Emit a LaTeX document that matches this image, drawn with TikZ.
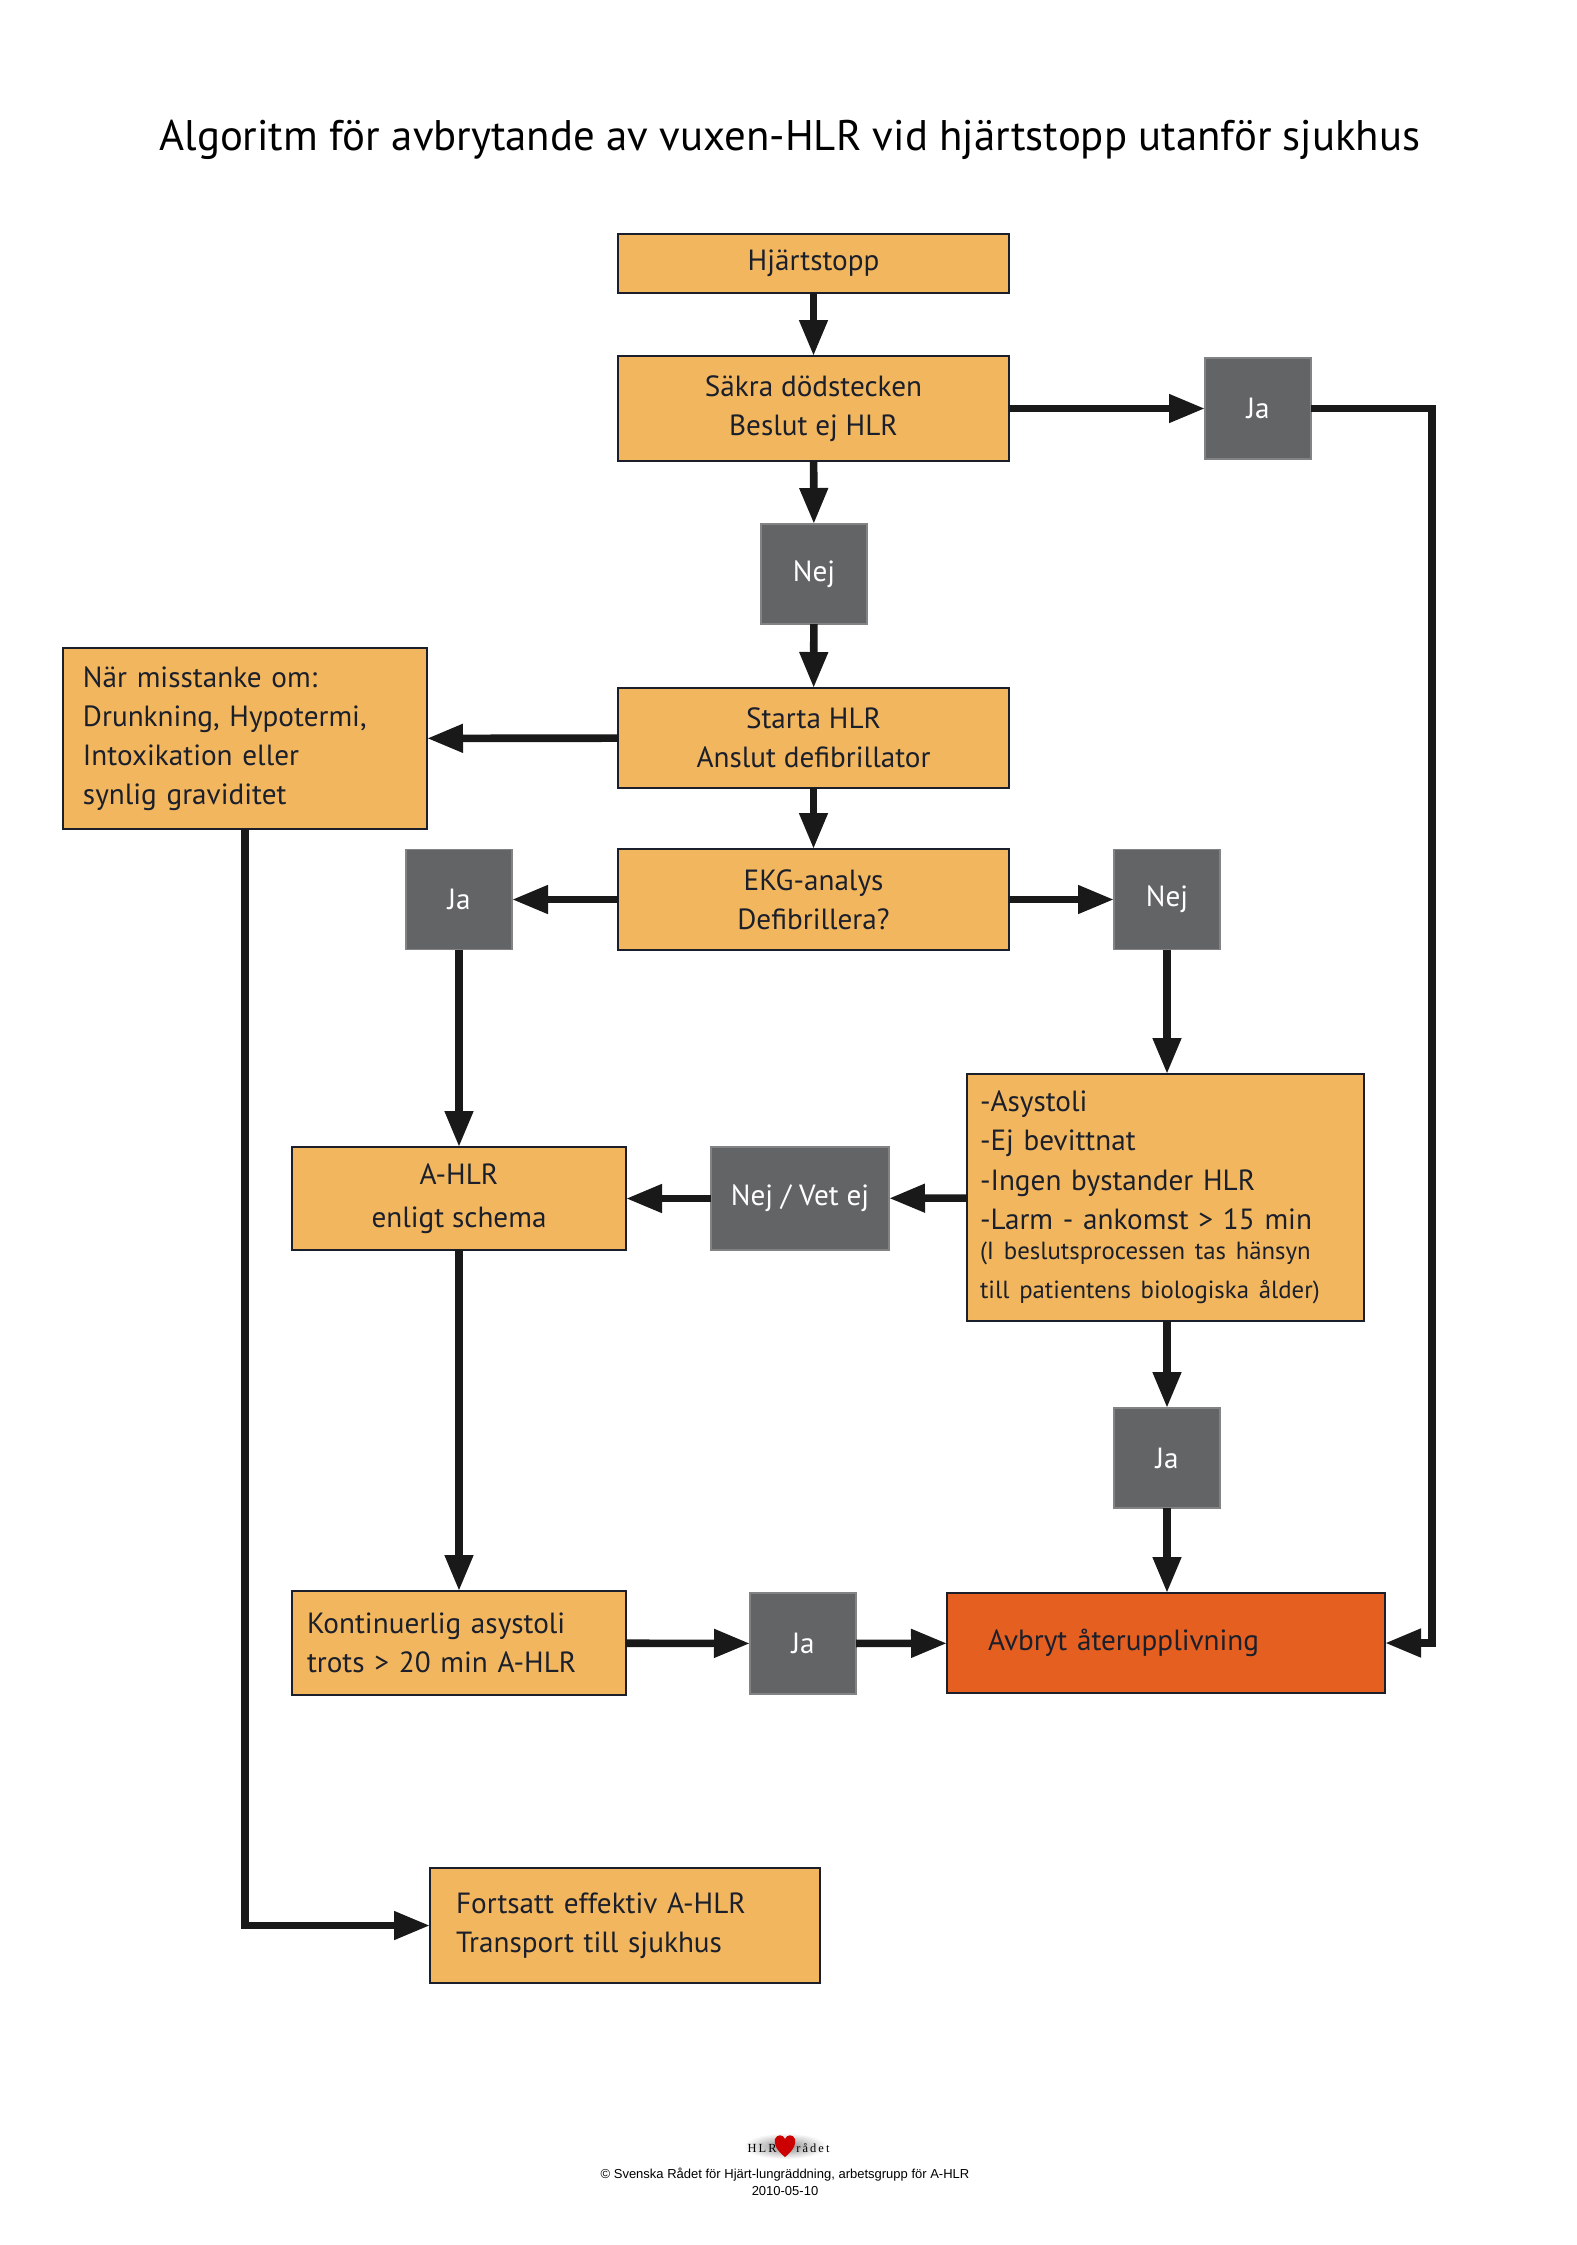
\documentclass[tikz,border=0pt]{standalone}
\usepackage{fontspec}
\setmainfont{PT Sans}
\newfontfamily\footfont{Liberation Sans}
\newfontfamily\logofont{Liberation Serif}
\usetikzlibrary{arrows.meta}
\definecolor{boxorange}{HTML}{F2B75E}
\definecolor{boxgray}{HTML}{636466}
\definecolor{boxred}{HTML}{E55F20}
\definecolor{inkdark}{HTML}{1B1F2B}
\tikzset{
  orangebox/.style={draw=inkdark,line width=1.2pt,fill=boxorange,text=inkdark,inner sep=0pt,outer sep=0pt,
    align=center,font=\fontsize{14.6}{19.6}\selectfont},
  leftbox/.style={orangebox,align=left},
  graybox/.style={draw=boxgray!80,line width=.6pt,fill=boxgray,text=white,inner sep=0pt,outer sep=0pt,
    font=\fontsize{14.6}{19.6}\selectfont},
  flow/.style={draw=black!90,line width=3.8pt,-{Triangle[width=13.5pt,length=18pt]}}
}
\begin{document}
\begin{tikzpicture}[x=0.5pt,y=-0.5pt]
\useasboundingbox (0,0) rectangle (1577,2245);
\node (title) at (790,140) {\fontsize{21.4}{26}\selectfont Algoritm för avbrytande av vuxen-HLR vid hjärtstopp utanför sjukhus};
% middle column
\node[orangebox,minimum width=195.5pt,minimum height=29.5pt] (hjartstopp) at (813.5,263.5) {Hjärtstopp};
\node[orangebox,minimum width=195.5pt,minimum height=52.5pt] (sakra) at (813.5,408.5) {Säkra dödstecken\\Beslut ej HLR};
\node[graybox,minimum width=53pt,minimum height=50pt] (nejtop) at (814,574) {Nej};
\node[orangebox,minimum width=195.5pt,minimum height=50pt] (starta) at (813.5,738) {Starta HLR\\Anslut defibrillator};
\node[orangebox,minimum width=195.5pt,minimum height=50.5pt] (ekg) at (813.5,899.5) {EKG-analys\\Defibrillera?};
\node[graybox,minimum width=53pt,minimum height=50.5pt] (jatop) at (1258,408.5) {Ja};
\node[graybox,minimum width=53pt,minimum height=50pt] (jaleft) at (459,899.5) {Ja};
\node[graybox,minimum width=53pt,minimum height=50pt] (nejright) at (1167,899.5) {Nej};
% left column
\node[leftbox,text width=162pt,inner xsep=10pt,minimum height=90.5pt] (misstanke) at (245,738.5) {När misstanke om:\\Drunkning, Hypotermi,\\Intoxikation eller\\synlig graviditet};
\node[orangebox,minimum width=167pt,minimum height=51.5pt,font=\fontsize{14.6}{21.5}\selectfont] (ahlr) at (459,1198.5) {A-HLR\\enligt schema};
\node[leftbox,text width=152pt,inner xsep=7.5pt,minimum height=52pt] (kontinuerlig) at (459,1643) {Kontinuerlig asystoli\\trots > 20 min A-HLR};
\node[leftbox,text width=169pt,inner xsep=13pt,minimum height=57.5pt] (fortsatt) at (625,1925.5) {Fortsatt effektiv A-HLR\\Transport till sjukhus};
% right column
\node[leftbox,text width=185.5pt,inner xsep=6.5pt,minimum height=123.5pt] (asystoli) at (1165.5,1197.5) {-Asystoli\\-Ej bevittnat\\-Ingen bystander HLR\\-Larm - ankomst > 15 min\\[-1pt]{\fontsize{12.4}{16}\selectfont (I beslutsprocessen tas hänsyn\\till patientens biologiska ålder)}};
\node[graybox,minimum width=89pt,minimum height=51.5pt] (nejvet) at (800,1198.5) {Nej / Vet ej};
\node[graybox,minimum width=53pt,minimum height=50pt] (jabottom) at (1167,1458) {Ja};
\node[graybox,minimum width=53pt,minimum height=50.5pt] (jaend) at (803,1643.5) {Ja};
\node[leftbox,fill=boxred,text width=178pt,inner xsep=20.5pt,minimum height=50pt] (avbryt) at (1166,1643) {Avbryt återupplivning};
% connectors
\coordinate (rightturn) at (1432,408.5);
\coordinate (rightend) at (1432,1643);
\foreach \a/\b in {hjartstopp/sakra,sakra/nejtop,nejtop/starta,starta/ekg,ekg/jaleft,ekg/nejright,starta/misstanke,sakra/jatop,nejvet/ahlr,asystoli/nejvet,jaleft/ahlr,ahlr/kontinuerlig,kontinuerlig/jaend,jaend/avbryt}
\draw[flow] (\a) -- (\b);
\draw[flow] (nejright) -- (nejright |- asystoli.north);
\draw[flow] (asystoli.south -| jabottom) -- (jabottom);
\draw[flow] (jabottom) -- (jabottom |- avbryt.north);
\draw[flow] (jatop) -- (rightturn) -- (rightend) -- (avbryt);
\draw[flow] (misstanke) |- (fortsatt);
% footer
\node[minimum width=42pt,minimum height=13pt,inner sep=0pt,outer sep=0pt,shade,shading=radial,inner color=black!45,outer color=white] (logoback) at (785,2146) {};
\path[fill=red!80!black] (785,2157) .. controls (775,2149) and (774,2143) .. (775,2139) .. controls (777,2134) and (783,2134) .. (785,2139) .. controls (787,2134) and (793,2134) .. (795,2139) .. controls (796,2143) and (795,2149) .. (785,2157) -- cycle;
\node[inner sep=0pt,anchor=east] (logoleft) at (777,2148) {\logofont\fontsize{6.2}{7}\selectfont H\,L\,R};
\node[inner sep=0pt,anchor=west] (logoright) at (796,2148) {\logofont\fontsize{6.2}{7}\selectfont r\,å\,d\,e\,t};
\node[inner sep=0pt] (copyright) at (785,2175) {\footfont\fontsize{6.5}{8}\selectfont © Svenska Rådet för Hjärt-lungräddning, arbetsgrupp för A-HLR};
\node[inner sep=0pt] (datum) at (785,2191) {\footfont\fontsize{6.5}{8}\selectfont 2010-05-10};
\end{tikzpicture}
\end{document}
